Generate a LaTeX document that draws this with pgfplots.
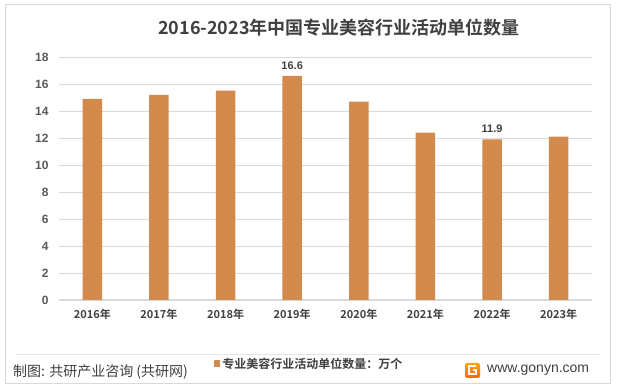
\documentclass[border=0pt]{standalone}
\usepackage{pgfplots}
\pgfplotsset{compat=1.18}
\usepackage{fontspec}
\setmainfont{Noto Sans CJK SC}[BoldFont={Noto Sans CJK SC Bold}]
\newfontfamily\latinfont{Liberation Sans}
\definecolor{barc}{RGB}{211,139,77}
\definecolor{txt}{RGB}{64,64,64}
\definecolor{tick}{RGB}{89,89,89}
\definecolor{gridc}{RGB}{217,217,217}
\begin{document}
\begin{tikzpicture}
\useasboundingbox (0pt,0pt) rectangle (618pt,390pt);
\fill[white] (0pt,0pt) rectangle (618pt,390pt);
\draw[gridc, line width=1pt] (5pt,6pt) rectangle (610pt,385pt);
\draw[gridc!70, line width=0.8pt] (15pt,36pt) -- (600pt,36pt);
\begin{axis}[
  at={(59pt,90pt)}, anchor=south west,
  scale only axis, width=533pt, height=243pt,
  ybar, bar width=19.5pt, bar shift=0pt,
  xmin=-0.5, xmax=7.5, ymin=0, ymax=18,
  ytick={0,2,...,18},
  xtick={0,...,7},
  xticklabels={2016年,2017年,2018年,2019年,2020年,2021年,2022年,2023年},
  axis x line*=bottom, axis y line*=left,
  y axis line style={draw=none},
  x axis line style={gridc, line width=1pt, -},
  ymajorgrids, grid style={gridc, line width=0.8pt},
  major tick length=0pt,
  /pgf/number format/assume math mode=true,
  yticklabel style={font=\latinfont\bfseries\fontsize{12}{13}\selectfont, text=tick, xshift=-7pt},
  xticklabel style={font=\bfseries\fontsize{11}{12}\selectfont, text=txt, yshift=-6pt},
  legend style={at={(0.29,-0.263)}, anchor=west, draw=none, fill=none,
    font=\bfseries\fontsize{12}{13}\selectfont, text=txt, inner sep=0pt},
  legend image code/.code={\fill[barc] (0pt,-3pt) rectangle (6.5pt,3.5pt);},
]
\addplot[fill=barc, draw=none] coordinates {(0,14.9) (1,15.2) (2,15.5) (3,16.6) (4,14.7) (5,12.4) (6,11.9) (7,12.1)};
\addlegendentry{专业美容行业活动单位数量：万个}
\addplot[draw=none, fill=none, forget plot, nodes near coords,
  nodes near coords style={font=\latinfont\bfseries\fontsize{11}{12}\selectfont, text=txt, yshift=3pt},
  /pgf/number format/fixed, /pgf/number format/precision=1] coordinates {(3,16.6) (6,11.9)};
\end{axis}
\node[font=\bfseries\fontsize{18}{20}\selectfont, text=txt] at (339pt,362pt) {2016-2023年中国专业美容行业活动单位数量};
\node[anchor=west, font=\fontsize{14}{15}\selectfont, text=txt, inner sep=0pt] at (13pt,18pt) {制图: 共研产业咨询 (共研网)};
\node[anchor=west, font=\latinfont\fontsize{14}{15}\selectfont, text=txt, inner sep=0pt] at (487pt,20pt) {www.gonyn.com};
\shade[rounded corners=2pt, top color=orange!70!yellow, bottom color=orange!80!red] (465pt,12pt) rectangle (480pt,27pt);
\draw[white, line width=2pt] (476pt,23.5pt) -- (469pt,23.5pt) -- (469pt,15.5pt) -- (476pt,15.5pt) -- (476pt,19.5pt) -- (472.5pt,19.5pt);
\end{tikzpicture}
\end{document}
